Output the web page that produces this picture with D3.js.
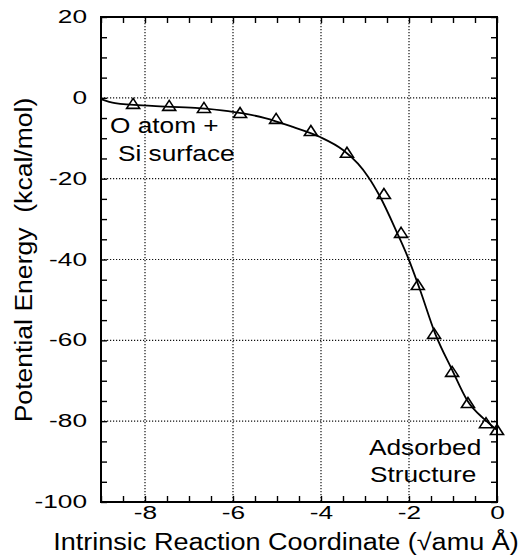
<!DOCTYPE html>
<html>
<head>
<meta charset="utf-8">
<script src="https://cdn.jsdelivr.net/npm/d3@7"></script>
<style>
  body { margin: 0; background: #fff; }
  svg { display: block; font-family: "Liberation Sans", Arial, sans-serif; }
</style>
</head>
<body>
<svg id="chart" width="522" height="560"></svg>
<script>
// IRC points (triangles)
const ircX = [-8.27, -7.45, -6.66, -5.84, -5.02, -4.23, -3.41, -2.57, -2.18, -1.80, -1.43, -1.02, -0.66, -0.25, 0.0];
const ircE = [-1.5, -2.0, -2.5, -3.75, -5.2, -8.2, -13.6, -23.8, -33.4, -46.3, -58.4, -67.8, -75.5, -80.5, -82.2];

// fitted curve
const fitX = [-9.0, -8.68, -7.84, -6.86, -6.11, -5.27, -4.64, -4.02, -3.50, -3.16, -2.93, -2.66, -2.27, -2.02, -1.75, -1.41, -1.02, -0.68, -0.27, 0.0];
const fitE = [-0.3, -1.3, -2.0, -2.5, -3.3, -5.0, -7.2, -9.7, -12.9, -16.3, -19.5, -24.4, -33.4, -39.6, -47.5, -58.2, -67.3, -74.8, -79.7, -82.2];

const xMajor = [-8, -6, -4, -2, 0];
const yMajor = [20, 0, -20, -40, -60, -80, -100];
const xMinor = d3.range(-9, 0.001, 0.5);
const yMinor = d3.range(-100, 20.001, 5);

const margin = {top: 17, left: 101, right: 25, bottom: 58};
const W = 522, H = 560;
const w = W - margin.left - margin.right;
const h = H - margin.top - margin.bottom;

const svg = d3.select('#chart');
const g = svg.append('g').attr('transform', `translate(${margin.left},${margin.top})`);

const x = d3.scaleLinear().domain([-9, 0]).range([0, w]);
const y = d3.scaleLinear().domain([-100, 20]).range([h, 0]);

// stretch text horizontally to match the wide scanned lettering
function stretch(sel, k) {
  sel.each(function() {
    const len = this.getComputedTextLength();
    d3.select(this).attr('textLength', len * k).attr('lengthAdjust', 'spacingAndGlyphs');
  });
}

// dotted grid
g.append('g').attr('class', 'grid')
  .selectAll('line.gx').data(xMajor.filter(d => d > -9 && d < 0)).enter().append('line')
  .attr('x1', d => x(d)).attr('x2', d => x(d)).attr('y1', 0).attr('y2', h);
g.select('.grid')
  .selectAll('line.gy').data(yMajor.filter(d => d > -100 && d < 20)).enter().append('line')
  .attr('y1', d => y(d)).attr('y2', d => y(d)).attr('x1', 0).attr('x2', w);
g.selectAll('.grid line')
  .attr('stroke', '#111').attr('stroke-width', 1.2).attr('stroke-dasharray', '1.2,1.8');

// inward ticks on all four sides
const tk = 6;
g.append('g').attr('transform', `translate(0,${h})`)
  .call(d3.axisBottom(x).tickValues(xMinor).tickSize(-tk).tickFormat(''));
g.append('g')
  .call(d3.axisTop(x).tickValues(xMinor).tickSize(-tk).tickFormat(''));
g.append('g')
  .call(d3.axisLeft(y).tickValues(yMinor).tickSize(-tk).tickFormat(''));
g.append('g').attr('transform', `translate(${w},0)`)
  .call(d3.axisRight(y).tickValues(yMinor).tickSize(-tk).tickFormat(''));
g.selectAll('.domain').remove();
g.selectAll('.tick line').attr('stroke', '#000').attr('stroke-width', 1.4);

// tick labels
const xl = g.append('g').attr('transform', `translate(0,${h})`)
  .call(d3.axisBottom(x).tickValues(xMajor).tickSize(0).tickPadding(5).tickFormat(d3.format('d')));
const yl = g.append('g')
  .call(d3.axisLeft(y).tickValues(yMajor).tickSize(0).tickPadding(14).tickFormat(d3.format('d')));
[xl, yl].forEach(a => {
  a.select('.domain').remove();
  a.attr('font-size', 17.5).attr('font-family', '"Liberation Sans", Arial, sans-serif');
  a.selectAll('text').attr('fill', '#000')
    .text(d => d < 0 ? '-' + Math.abs(d) : d);
  stretch(a.selectAll('text'), 1.5);
});

// frame
g.append('rect').attr('width', w).attr('height', h)
  .attr('fill', 'none').attr('stroke', '#000').attr('stroke-width', 2);

// fitted curve
const line = d3.line().x(d => x(d[0])).y(d => y(d[1])).curve(d3.curveMonotoneX);
g.append('path').datum(d3.zip(fitX, fitE))
  .attr('d', line).attr('fill', 'none').attr('stroke', '#000').attr('stroke-width', 1.8);

// triangle markers
const tri = 'M0,-5.5L6.5,4.5L-6.5,4.5Z';
g.append('g').selectAll('path').data(d3.zip(ircX, ircE)).enter().append('path')
  .attr('transform', d => `translate(${x(d[0])},${y(d[1])})`)
  .attr('d', tri).attr('fill', 'none').attr('stroke', '#000').attr('stroke-width', 1.6);

// annotations
const notes = [
  {t: 'O atom +', px: 110, py: 133},
  {t: 'Si surface', px: 118, py: 161},
  {t: 'Adsorbed', px: 369, py: 455},
  {t: 'Structure', px: 370, py: 482}
];
const nt = svg.append('g').selectAll('text').data(notes).enter().append('text')
  .attr('x', d => d.px).attr('y', d => d.py)
  .attr('font-size', 21.5).text(d => d.t);
stretch(nt, 1.22);

// axis titles
const xt = svg.append('text').attr('x', 286).attr('y', 550).attr('text-anchor', 'middle')
  .attr('font-size', 23.5).text('Intrinsic Reaction Coordinate (\u221Aamu \u00C5)');
stretch(xt, 1.15);
const yt = svg.append('text').attr('transform', 'translate(32,260) rotate(-90)')
  .attr('text-anchor', 'middle').attr('font-size', 23.5)
  .attr('xml:space', 'preserve').text('Potential Energy  (kcal/mol)');
stretch(yt, 1.13);
</script>
</body>
</html>
